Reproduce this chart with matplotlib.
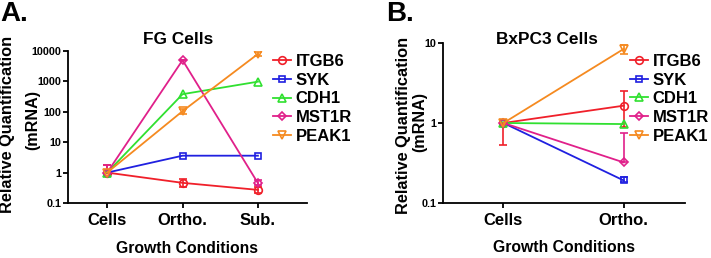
import numpy as np
import matplotlib
matplotlib.use('Agg')
import matplotlib.pyplot as plt

plt.rcParams['font.family'] = ['Liberation Sans', 'DejaVu Sans']
plt.rcParams['font.weight'] = 'bold'

genes = ['ITGB6', 'SYK', 'CDH1', 'MST1R', 'PEAK1']
colors = ['#f0202a', '#2020e0', '#30e030', '#e0208a', '#f58a20']
markers = ['o', 's', '^', 'D', 'v']
msizes = [5.5, 5, 5.5, 4.5, 5.5]

# FG cells: Cells, Ortho., Sub.
fg_conditions = ['Cells', 'Ortho.', 'Sub.']
fg_itgb6 = [1.0, 0.46, 0.27]
fg_syk = [1.0, 3.6, 3.6]
fg_cdh1 = [1.0, 380, 980]
fg_mst1r = [1.0, 5000, 0.45]
fg_peak1 = [1.0, 105, 8000]
# error bar bounds (low, high)
fg_itgb6_lo = [1.0, 0.33, 0.21]
fg_itgb6_hi = [1.8, 0.62, 0.34]
fg_mst1r_lo = [1.0, 5000, 0.38]
fg_mst1r_hi = [1.8, 5000, 0.57]
fg_peak1_lo = [1.0, 85, 7000]
fg_peak1_hi = [1.0, 125, 9000]

# BxPC3 cells: Cells, Ortho.
bx_conditions = ['Cells', 'Ortho.']
bx_itgb6 = [1.0, 1.65]
bx_syk = [1.0, 0.19]
bx_cdh1 = [1.0, 0.97]
bx_mst1r = [1.0, 0.32]
bx_peak1 = [1.0, 8.5]
bx_itgb6_lo = [0.53, 0.9]
bx_itgb6_hi = [1.0, 2.5]
bx_mst1r_lo = [1.0, 0.32]
bx_mst1r_hi = [1.0, 0.74]
bx_peak1_lo = [1.0, 7.3]
bx_peak1_hi = [1.0, 9.6]
bx_syk_lo = [1.0, 0.18]
bx_syk_hi = [1.0, 0.21]

ylabel_lines = ['Relative Quantification', '(mRNA)']

fig = plt.figure(figsize=(7.11, 2.58), dpi=100)
axA = fig.add_axes([0.0956, 0.2132, 0.3361, 0.5891])
axB = fig.add_axes([0.6227, 0.2144, 0.3408, 0.6177])


def draw(ax, conds, series, bounds):
    x = np.arange(len(conds))
    for i, g in enumerate(genes):
        y = np.array(series[i])
        if bounds[i] is not None:
            lo, hi = np.array(bounds[i][0]), np.array(bounds[i][1])
            ax.errorbar(x, y, yerr=[y - lo, hi - y], fmt='none', ecolor=colors[i],
                        elinewidth=1.2, capsize=3, capthick=1.2, zorder=2)
        ax.plot(x, y, color=colors[i], lw=1.3, marker=markers[i], ms=msizes[i],
                mfc='none', mec=colors[i], mew=1.2, label=g, zorder=3)
    ax.set_yscale('log')
    ax.set_xticks(x)
    ax.set_xticklabels(conds, fontsize=12, fontweight='bold')
    ax.spines['top'].set_visible(False)
    ax.spines['right'].set_visible(False)
    ax.spines['left'].set_linewidth(1.3)
    ax.spines['bottom'].set_linewidth(1.3)
    ax.tick_params(axis='both', which='major', width=1.3, length=3.8)
    ax.tick_params(axis='y', labelsize=7.8, pad=1)
    ax.tick_params(axis='y', which='minor', left=False)
    ax.yaxis.set_major_formatter(matplotlib.ticker.FuncFormatter(lambda v, p: f'{v:g}'))
    ax.set_xlabel('Growth Conditions', fontsize=11.3, fontweight='bold', labelpad=9)


draw(axA, fg_conditions, [fg_itgb6, fg_syk, fg_cdh1, fg_mst1r, fg_peak1],
     [(fg_itgb6_lo, fg_itgb6_hi), None, None, (fg_mst1r_lo, fg_mst1r_hi),
      (fg_peak1_lo, fg_peak1_hi)])
axA.set_ylim(0.1, 10000)
axA.set_xlim(-0.52, 2.65)
axA.set_yticks([0.1, 1, 10, 100, 1000, 10000])

draw(axB, bx_conditions, [bx_itgb6, bx_syk, bx_cdh1, bx_mst1r, bx_peak1],
     [(bx_itgb6_lo, bx_itgb6_hi), (bx_syk_lo, bx_syk_hi), None,
      (bx_mst1r_lo, bx_mst1r_hi), (bx_peak1_lo, bx_peak1_hi)])
axB.set_ylim(0.1, 10)
axB.set_xlim(-0.505, 1.51)
axB.set_yticks([0.1, 1, 10])

# y-axis labels, two lines each
for (x1, y1), (x2, y2) in [((7.2, 124.5), (33.0, 120.0)),
                           ((403.3, 125.0), (420.0, 121.5))]:
    fig.text(x1 / 711, 1 - y1 / 258, ylabel_lines[0], rotation=90, fontsize=11.8,
             fontweight='bold', ha='center', va='center')
    fig.text(x2 / 711, 1 - y2 / 258, ylabel_lines[1], rotation=90, fontsize=11.6,
             fontweight='bold', ha='center', va='center')

fig.text(0.2504, 0.8295, 'FG Cells', fontsize=12.4, fontweight='bold',
         ha='center', va='baseline')
fig.text(0.769, 0.8295, 'BxPC3 Cells', fontsize=12.4, fontweight='bold',
         ha='center', va='baseline')

for ax, anchor in [(axA, (0.858, 0.98)), (axB, (0.773, 0.933))]:
    leg = ax.legend(loc='upper left', bbox_to_anchor=anchor, frameon=False,
                    fontsize=12, handlelength=1.1, handletextpad=0.25,
                    labelspacing=0.22, borderaxespad=0, borderpad=0)
    for t in leg.get_texts():
        t.set_fontweight('bold')

fig.text(0.0, 0.995, 'A.', fontsize=20, fontweight='bold', va='top', ha='left')
fig.text(0.543, 0.995, 'B.', fontsize=20, fontweight='bold', va='top', ha='left')

fig.savefig('out.png', dpi=100)
